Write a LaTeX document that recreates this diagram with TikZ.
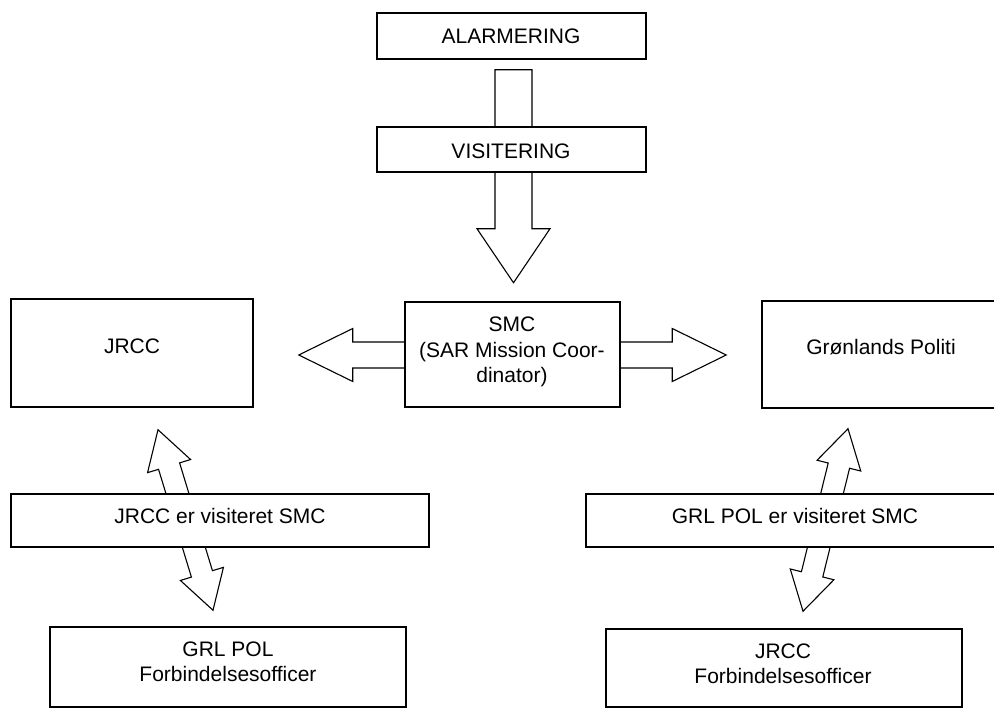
\documentclass[tikz,border=0pt]{standalone}
\usepackage{fontspec}
\setmainfont{Liberation Sans}
\usetikzlibrary{calc,backgrounds}
\tikzset{
  boxnode/.style={draw=black, line width=1.5pt, fill=white, inner sep=0pt, rectangle},
  txt/.style={inner sep=0pt, font=\fontsize{21}{25}\selectfont, align=center},
  smctxt/.style={inner sep=0pt, font=\fontsize{21}{25.5}\selectfont, align=center},
  blockarrow/.style={draw=black, fill=white, line width=1.1pt, line join=miter},
}
% box from (x1,y1) to (x2,y2)
\newcommand{\mybox}[5]{\node[boxnode, minimum width={#4pt-#2pt}, minimum height={#5pt-#3pt}] (#1) at ({(#2+#4)/2},{(#3+#5)/2}) {};}
% double block arrow: A, B, shaft half width, head half width, head length
\newcommand{\dblblock}[5]{%
 \draw[blockarrow] (#1)
  -- ($(#1)!#5!(#2)!#4!90:(#2)$)
  -- ($(#1)!#5!(#2)!#3!90:(#2)$)
  -- ($(#2)!#5!(#1)!#3!-90:(#1)$)
  -- ($(#2)!#5!(#1)!#4!-90:(#1)$)
  -- (#2)
  -- ($(#2)!#5!(#1)!#4!90:(#1)$)
  -- ($(#2)!#5!(#1)!#3!90:(#1)$)
  -- ($(#1)!#5!(#2)!#3!-90:(#2)$)
  -- ($(#1)!#5!(#2)!#4!-90:(#2)$)
  -- cycle;}
% single block arrow: tail A, tip B
\newcommand{\sglblock}[5]{%
 \draw[blockarrow] ($(#1)!#3!90:(#2)$)
  -- ($(#2)!#5!(#1)!#3!-90:(#1)$)
  -- ($(#2)!#5!(#1)!#4!-90:(#1)$)
  -- (#2)
  -- ($(#2)!#5!(#1)!#4!90:(#1)$)
  -- ($(#2)!#5!(#1)!#3!90:(#1)$)
  -- ($(#1)!#3!-90:(#2)$)
  -- cycle;}
\begin{document}
\begin{tikzpicture}[x=1pt, y=-1pt]
\useasboundingbox (0,0) rectangle (994,708);
\clip (0,0) rectangle (994,708);
% boxes
\mybox{alarm}{377}{13}{646}{59}
\mybox{visit}{377}{127}{646}{172}
\mybox{smc}{405}{302}{620}{407}
\mybox{jrcc}{11}{299}{253}{407}
\mybox{politi}{762}{301}{1000}{408}
\mybox{jvis}{11}{494}{429}{547}
\mybox{gvis}{586}{494}{1000}{547}
\mybox{gforb}{50}{627}{406}{707}
\mybox{jforb}{606}{629}{962}{707}
% connector end points
\coordinate (t1) at ($(alarm.south)+(2,10)$);
\coordinate (t2) at ($(visit.south)+(2,110)$);
\coordinate (h1) at ($(jrcc.east)+(45,2)$);
\coordinate (h2) at ($(politi.west)+(-35,0.5)$);
\coordinate (l1) at ($(jrcc.south)+(26,22)$);
\coordinate (l2) at ($(gforb.north)+(-15,-16)$);
\coordinate (r1) at ($(politi.south)+(-33,20)$);
\coordinate (r2) at ($(jforb.north)+(19,-17)$);
% block arrows, behind the boxes
\begin{scope}[on background layer]
\sglblock{t1}{t2}{18.5pt}{36.5pt}{54pt}
\dblblock{h1}{h2}{13pt}{26.5pt}{54pt}
\dblblock{l1}{l2}{11pt}{22.5pt}{38pt}
\dblblock{r1}{r2}{11pt}{22.5pt}{38pt}
\end{scope}
% texts
\node[txt, anchor=base] (alarm-t) at (511,44) {ALARMERING};
\node[txt, anchor=base] (visit-t) at (511,158.3) {VISITERING};
\node[smctxt] (smc-t) at (512,352) {SMC\\(SAR Mission Coor-\\dinator)};
\node[txt, anchor=base] (jrcc-t) at (132,354) {JRCC};
\node[txt, anchor=base] (politi-t) at (881,355) {Grønlands Politi};
\node[txt, anchor=base] (jvis-t) at (220,524) {JRCC er visiteret SMC};
\node[txt, anchor=base] (gvis-t) at (795,524) {GRL POL er visiteret SMC};
\node[txt] (gforb-t) at (228,662) {GRL POL\\Forbindelsesofficer};
\node[txt] (jforb-t) at (783,664) {JRCC\\Forbindelsesofficer};
\end{tikzpicture}
\end{document}
